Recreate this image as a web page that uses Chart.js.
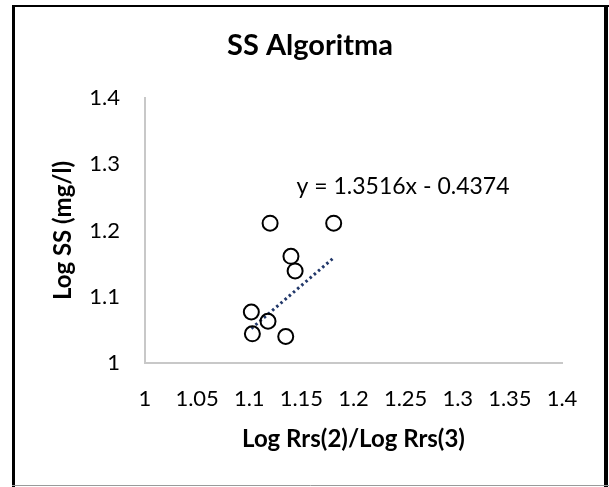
<!DOCTYPE html>
<html>
<head>
<meta charset="utf-8">
<script src="https://cdn.jsdelivr.net/npm/chart.js@4.4.1/dist/chart.umd.min.js"></script>
<style>
  html, body { margin: 0; padding: 0; background: #ffffff; }
  #wrap { position: absolute; left: 0; top: 0; width: 609px; height: 487px; }
</style>
</head>
<body>
<div id="wrap"><canvas id="c"></canvas></div>
<script>
// ---- data ----
const chartTitle = 'SS Algoritma';
const xAxisTitle = 'Log Rrs(2)/Log Rrs(3)';
const yAxisTitle = 'Log SS (mg/l)';
const xValues = [1.120, 1.181, 1.140, 1.144, 1.102, 1.118, 1.103, 1.135];
const yValues = [1.211, 1.211, 1.161, 1.139, 1.077, 1.063, 1.044, 1.040];
const trendSlope = 1.3516;
const trendIntercept = -0.4374;
const trendLabel = 'y = 1.3516x - 0.4374';
const xTickValues = [1, 1.05, 1.1, 1.15, 1.2, 1.25, 1.3, 1.35, 1.4];
const xTickLabels = ['1', '1.05', '1.1', '1.15', '1.2', '1.25', '1.3', '1.35', '1.4'];
const yTickValues = [1, 1.1, 1.2, 1.3, 1.4];
const yTickLabels = ['1', '1.1', '1.2', '1.3', '1.4'];

const points = xValues.map((x, i) => ({ x: x, y: yValues[i] }));
const xMin = Math.min(...xValues), xMax = Math.max(...xValues);
const trendPoints = [xMin, xMax].map(x => ({ x: x, y: trendSlope * x + trendIntercept }));

const FONT = 'Lato, "Open Sans", sans-serif';

const decorPlugin = {
  id: 'decor',
  afterDraw(chart) {
    const ctx = chart.ctx;
    ctx.save();
    // title
    ctx.fillStyle = '#000000';
    ctx.font = 'bold 29px ' + FONT;
    ctx.textAlign = 'center';
    ctx.textBaseline = 'middle';
    ctx.fillText(chartTitle, 310, 46);
    // trendline equation label, anchored in data coordinates
    const xs = chart.scales.x, ys = chart.scales.y;
    ctx.font = '23px ' + FONT;
    ctx.fillText(trendLabel, xs.getPixelForValue(1.2475), ys.getPixelForValue(1.2657));
    // frame
    ctx.strokeStyle = '#000000';
    ctx.lineWidth = 3;
    ctx.beginPath(); ctx.moveTo(13.5, 5); ctx.lineTo(13.5, 487); ctx.stroke();
    ctx.lineWidth = 2;
    ctx.beginPath(); ctx.moveTo(12, 6); ctx.lineTo(609, 6); ctx.stroke();
    ctx.lineWidth = 4;
    ctx.beginPath(); ctx.moveTo(606, 5); ctx.lineTo(606, 487); ctx.stroke();
    ctx.strokeStyle = '#9a9a9a';
    ctx.lineWidth = 1;
    ctx.beginPath(); ctx.moveTo(12, 485.5); ctx.lineTo(609, 485.5); ctx.stroke();
    ctx.restore();
  }
};

new Chart(document.getElementById('c'), {
  type: 'scatter',
  data: {
    datasets: [
      {
        type: 'line',
        data: trendPoints,
        borderColor: '#22386a',
        borderWidth: 3,
        borderDash: [2.5, 3],
        pointRadius: 0,
        fill: false,
        order: 2
      },
      {
        data: points,
        pointRadius: 7.5,
        pointBorderWidth: 2,
        pointBorderColor: '#000000',
        pointBackgroundColor: 'rgba(255,255,255,0)',
        pointHoverRadius: 7.5,
        order: 1
      }
    ]
  },
  plugins: [decorPlugin],
  options: {
    responsive: true,
    maintainAspectRatio: false,
    animation: false,
    events: [],
    layout: { padding: { left: 12, top: 98, right: 47, bottom: 0 } },
    plugins: {
      legend: { display: false },
      title: { display: false },
      tooltip: { enabled: false }
    },
    scales: {
      x: {
        type: 'linear',
        min: 1, max: 1.4,
        grid: { display: false, drawTicks: false },
        border: { display: true, color: '#c8c8c8', width: 2 },
        afterFit(scale) { scale.height = 124; },
        afterBuildTicks(scale) { scale.ticks = xTickValues.map(v => ({ value: v })); },
        ticks: {
          padding: 23,
          color: '#000000',
          font: { family: FONT, size: 22 },
          maxRotation: 0,
          autoSkip: false,
          callback: (v, i) => xTickLabels[i]
        },
        title: {
          display: true,
          text: xAxisTitle,
          color: '#000000',
          font: { family: FONT, size: 24, weight: 'bold' },
          padding: { top: 0, bottom: 33 }
        }
      },
      y: {
        type: 'linear',
        min: 1, max: 1.4,
        grid: { display: false, drawTicks: false },
        border: { display: true, color: '#c8c8c8', width: 2 },
        afterFit(scale) { scale.width = 133; },
        afterBuildTicks(scale) { scale.ticks = yTickValues.map(v => ({ value: v })); },
        ticks: {
          padding: 25,
          color: '#000000',
          font: { family: FONT, size: 22 },
          autoSkip: false,
          callback: (v, i) => yTickLabels[i]
        },
        title: {
          display: true,
          text: yAxisTitle,
          color: '#000000',
          font: { family: FONT, size: 24, weight: 'bold' },
          padding: { top: 37, bottom: 0 }
        }
      }
    }
  }
});
</script>
</body>
</html>
